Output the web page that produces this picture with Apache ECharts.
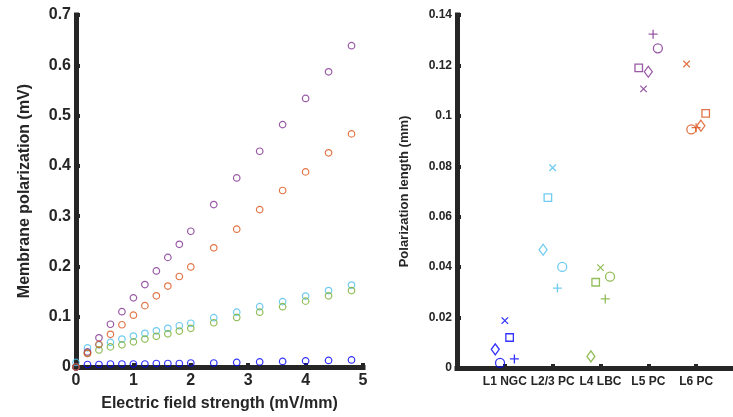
<!DOCTYPE html>
<html>
<head>
<meta charset="utf-8">
<script src="https://cdn.jsdelivr.net/npm/echarts@6/dist/echarts.min.js"></script>
<style>
html, body { margin: 0; padding: 0; background: #fff; }
#main { width: 733px; height: 417px; }
</style>
</head>
<body>
<div id="main"></div>
<script>
// left panel: field strength (mV/mm) vs membrane polarization (mV)
var fieldStrength = [0, 0.2, 0.4, 0.6, 0.8, 1.0, 1.2, 1.4, 1.6, 1.8, 2.0, 2.4, 2.8, 3.2, 3.6, 4.0, 4.4, 4.8];
var polL1 = [0, 0.005, 0.005, 0.006, 0.006, 0.006, 0.006, 0.007, 0.007, 0.007, 0.008, 0.008, 0.009, 0.010, 0.011, 0.012, 0.013, 0.014];
var polL23 = [0.009, 0.038, 0.044, 0.049, 0.0556, 0.0615, 0.067, 0.072, 0.077, 0.082, 0.087, 0.098, 0.109, 0.120, 0.130, 0.141, 0.152, 0.163];
var polL4 = [0, 0.028, 0.034, 0.040, 0.044, 0.050, 0.0556, 0.061, 0.066, 0.0714, 0.077, 0.088, 0.0986, 0.109, 0.120, 0.131, 0.1415, 0.152];
var polL5 = [0, 0.030, 0.058, 0.085, 0.110, 0.1375, 0.164, 0.191, 0.218, 0.244, 0.270, 0.323, 0.376, 0.429, 0.482, 0.534, 0.587, 0.639];
var polL6 = [0, 0.027, 0.045, 0.065, 0.084, 0.103, 0.122, 0.1415, 0.161, 0.180, 0.199, 0.237, 0.274, 0.313, 0.351, 0.388, 0.426, 0.4636];

// right panel: polarization length (mm) per cell type, five cells each
var cellTypes = ['L1 NGC', 'L2/3 PC', 'L4 LBC', 'L5 PC', 'L6 PC'];
var markerShapes = ['circle', 'cross', 'square', 'diamond', 'plus'];
var polLength = [
    [0.002, 0.0188, 0.0121, 0.0074, 0.0036],
    [0.0401, 0.0794, 0.0676, 0.0469, 0.0317],
    [0.0362, 0.0398, 0.034, 0.0046, 0.0274],
    [0.1268, 0.1107, 0.119, 0.1175, 0.1324],
    [0.0946, 0.1206, 0.101, 0.0961, 0.0953]
];
var jitter = [
    [-0.1, 0, 0.1, -0.2, 0.2],
    [0.2, 0, -0.1, -0.2, 0.1],
    [0.2, 0, -0.1, -0.2, 0.1],
    [0.2, -0.1, -0.2, 0, 0.1],
    [-0.1, -0.2, 0.2, 0.1, 0]
];

var colors = ['#0000FF', '#4DBEEE', '#77AC30', '#7E2F8E', '#D95319'];
var ink = '#262626';
var font = 'Liberation Sans, Arial, sans-serif';

var symbolMap = {
    circle: { symbol: 'circle', size: 9 },
    cross: { symbol: 'path://M0,0L10,10M10,0L0,10', size: 6.5 },
    square: { symbol: 'rect', size: 7.5 },
    diamond: { symbol: 'diamond', size: [8, 11] },
    plus: { symbol: 'path://M5,0L5,10M0,5L10,5', size: 9 }
};

function axisStyle(fontSize, margin) {
    return {
        axisLine: { show: true, onZero: false, lineStyle: { color: ink, width: 5, cap: 'square' } },
        axisTick: { show: true, inside: true, length: 4, lineStyle: { color: ink, width: 4 } },
        axisLabel: { color: ink, fontFamily: font, fontWeight: 'bold', fontSize: fontSize, margin: margin },
        splitLine: { show: false },
        nameTextStyle: { color: ink, fontFamily: font, fontWeight: 'bold' }
    };
}

var series = [];
var leftData = [polL1, polL23, polL4, polL5, polL6];
leftData.forEach(function (vals, i) {
    series.push({
        type: 'scatter',
        xAxisIndex: 0,
        yAxisIndex: 0,
        symbol: 'circle',
        symbolSize: 6.5,
        itemStyle: { color: 'rgba(0,0,0,0)', borderColor: colors[i], borderWidth: 1.2 },
        data: fieldStrength.map(function (x, k) { return [x, vals[k]]; }),
        silent: true
    });
});

cellTypes.forEach(function (name, c) {
    series.push({
        type: 'scatter',
        name: name,
        xAxisIndex: 1,
        yAxisIndex: 1,
        itemStyle: { color: 'rgba(0,0,0,0)', borderColor: colors[c], borderWidth: 1.3 },
        data: markerShapes.map(function (s, k) {
            return {
                value: [c + 1 + jitter[c][k], polLength[c][k]],
                symbol: symbolMap[s].symbol,
                symbolSize: symbolMap[s].size
            };
        }),
        silent: true
    });
});

var x0 = axisStyle(16, 6);
var y0 = axisStyle(16, 5);
var x1 = axisStyle(12, 8);
var y1 = axisStyle(12, 5);

var chart = echarts.init(document.getElementById('main'), null, { renderer: 'canvas' });
chart.setOption({
    animation: false,
    backgroundColor: '#fff',
    grid: [
        { left: 76, top: 15, width: 287, height: 353 },
        { left: 457, top: 15, width: 275, height: 353 }
    ],
    xAxis: [
        Object.assign(x0, {
            type: 'value', gridIndex: 0, min: 0, max: 5, interval: 1,
            name: 'Electric field strength (mV/mm)', nameLocation: 'middle', nameGap: 29,
            nameTextStyle: Object.assign(x0.nameTextStyle, { fontSize: 16 })
        }),
        Object.assign(x1, {
            type: 'value', gridIndex: 1, min: 0, max: 5.75,
            axisTick: Object.assign(x1.axisTick, { customValues: [1, 2, 3, 4, 5] }),
            axisLabel: Object.assign(x1.axisLabel, {
                customValues: [1, 2, 3, 4, 5],
                formatter: function (v) { return cellTypes[Math.round(v) - 1] || ''; }
            })
        })
    ],
    yAxis: [
        Object.assign(y0, {
            type: 'value', gridIndex: 0, min: 0, max: 0.7, interval: 0.1,
            name: 'Membrane polarization (mV)', nameLocation: 'middle', nameGap: 43,
            nameTextStyle: Object.assign(y0.nameTextStyle, { fontSize: 16 })
        }),
        Object.assign(y1, {
            type: 'value', gridIndex: 1, min: 0, max: 0.14, interval: 0.02,
            name: 'Polarization length (mm)', nameLocation: 'middle', nameGap: 46,
            nameTextStyle: Object.assign(y1.nameTextStyle, { fontSize: 13 })
        })
    ],
    series: series
});
</script>
</body>
</html>
